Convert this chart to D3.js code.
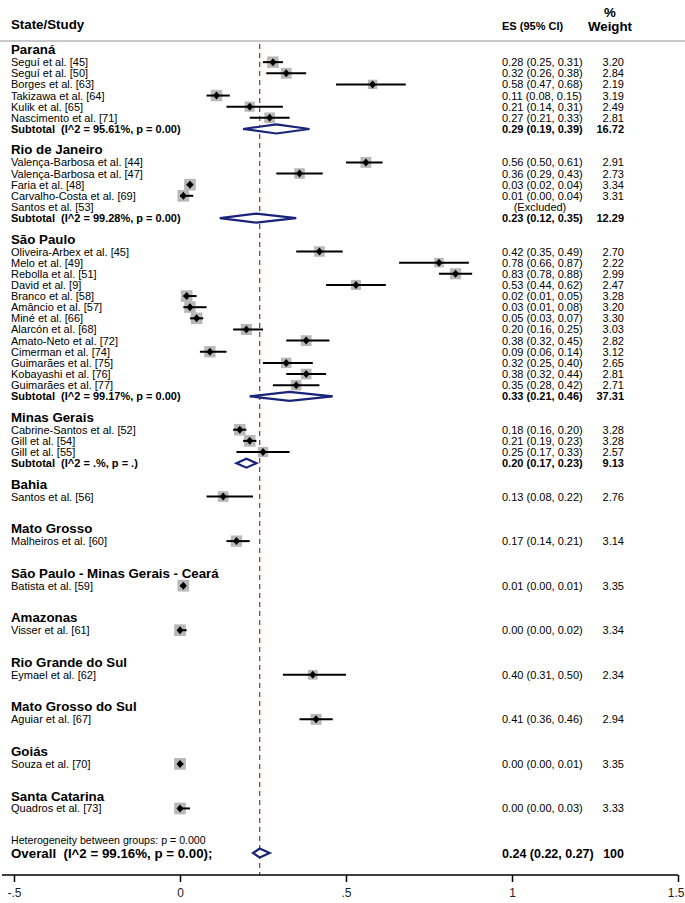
<!DOCTYPE html>
<html>
<head>
<meta charset="utf-8">
<script src="https://cdn.jsdelivr.net/npm/d3@7"></script>
<style>
  html, body { margin: 0; padding: 0; background: #fff; }
  svg { display: block; font-family: "Liberation Sans", Arial, Helvetica, sans-serif; }
  svg text { white-space: pre; }
</style>
</head>
<body>
<svg id="chart" width="685" height="903"></svg>
<script>
// ---------------- DATA ----------------
const groups = ["Paraná", "Rio de Janeiro", "São Paulo", "Minas Gerais", "Bahia", "Mato Grosso",
  "São Paulo - Minas Gerais - Ceará", "Amazonas", "Rio Grande do Sul", "Mato Grosso do Sul", "Goiás", "Santa Catarina"];

const studyNames = [
  "Seguí et al. [45]", "Seguí et al. [50]", "Borges et al. [63]", "Takizawa et al. [64]", "Kulik et al. [65]", "Nascimento et al. [71]",
  "Valença-Barbosa et al. [44]", "Valença-Barbosa et al. [47]", "Faria et al. [48]", "Carvalho-Costa et al. [69]", "Santos et al. [53]",
  "Oliveira-Arbex et al. [45]", "Melo et al. [49]", "Rebolla et al. [51]", "David et al. [9]", "Branco et al. [58]", "Amâncio et al. [57]",
  "Miné et al. [66]", "Alarcón et al. [68]", "Amato-Neto et al. [72]", "Cimerman et al. [74]", "Guimarães et al. [75]", "Kobayashi et al. [76]", "Guimarães et al. [77]",
  "Cabrine-Santos et al. [52]", "Gill et al. [54]", "Gill et al. [55]",
  "Santos et al. [56]", "Malheiros et al. [60]", "Batista et al. [59]", "Visser et al. [61]", "Eymael et al. [62]", "Aguiar et al. [67]",
  "Souza et al. [70]", "Quadros et al. [73]"
];
const studyGroup = [
  0,0,0,0,0,0,
  1,1,1,1,1,
  2,2,2,2,2,2,2,2,2,2,2,2,2,
  3,3,3,
  4,5,6,7,8,9,10,11
];
const studyES = [0.28,0.32,0.58,0.11,0.21,0.27, 0.56,0.36,0.03,0.01,null,
  0.42,0.78,0.83,0.53,0.02,0.03,0.05,0.20,0.38,0.09,0.32,0.38,0.35,
  0.18,0.21,0.25, 0.13,0.17,0.01,0.00,0.40,0.41,0.00,0.00];
const studyLo = [0.25,0.26,0.47,0.08,0.14,0.21, 0.50,0.29,0.02,0.00,null,
  0.35,0.66,0.78,0.44,0.01,0.01,0.03,0.16,0.32,0.06,0.25,0.32,0.28,
  0.16,0.19,0.17, 0.08,0.14,0.00,0.00,0.31,0.36,0.00,0.00];
const studyHi = [0.31,0.38,0.68,0.15,0.31,0.33, 0.61,0.43,0.04,0.04,null,
  0.49,0.87,0.88,0.62,0.05,0.08,0.07,0.25,0.45,0.14,0.40,0.44,0.42,
  0.20,0.23,0.33, 0.22,0.21,0.01,0.02,0.50,0.46,0.01,0.03];
const studyWeight = [3.20,2.84,2.19,3.19,2.49,2.81, 2.91,2.73,3.34,3.31,null,
  2.70,2.22,2.99,2.47,3.28,3.20,3.30,3.03,2.82,3.12,2.65,2.81,2.71,
  3.28,3.28,2.57, 2.76,3.14,3.35,3.34,2.34,2.94,3.35,3.33];

// subtotals (index = group), null = no subtotal shown
const subtotalLabel = ["Subtotal  (I^2 = 95.61%, p = 0.00)", "Subtotal  (I^2 = 99.28%, p = 0.00)",
  "Subtotal  (I^2 = 99.17%, p = 0.00)", "Subtotal  (I^2 = .%, p = .)", null, null, null, null, null, null, null, null];
const subtotalES = [0.29, 0.23, 0.33, 0.20];
const subtotalLo = [0.19, 0.12, 0.21, 0.17];
const subtotalHi = [0.39, 0.35, 0.46, 0.23];
const subtotalWeight = ["16.72", "12.29", "37.31", "9.13"];

const overallLabel = "Overall  (I^2 = 99.16%, p = 0.00);";
const overallES = 0.24, overallLo = 0.22, overallHi = 0.27, overallWeight = "100";
const heterogeneityText = "Heterogeneity between groups: p = 0.000";

const tickValues = [-0.5, 0, 0.5, 1, 1.5];
const tickLabels = ["-.5", "0", ".5", "1", "1.5"];

// ---------------- LAYOUT ----------------
const svg = d3.select("#chart");
const W = 685, H = 903;
const x = d3.scaleLinear().domain([-0.5, 1.5]).range([14, 678]);

// build rows
const rows = [];
groups.forEach((g, gi) => {
  rows.push({type: "heading", label: g});
  studyNames.forEach((n, i) => {
    if (studyGroup[i] === gi) rows.push({type: "study", i});
  });
  if (subtotalLabel[gi]) rows.push({type: "subtotal", gi});
  else rows.push({type: "empty"});
  rows.push({type: "empty"});
});
rows.push({type: "het"});
rows.push({type: "overall"});

const y = d3.scaleLinear().domain([0, rows.length - 1]).range([51, 853]);

const fmt = d3.format(".2f");
const esText = (e, l, h) => `${fmt(e)} (${fmt(l)}, ${fmt(h)})`;

const COL_ES = 502, COL_W = 624;
const NAVY = "#1a237a";
const FS = 11, FH = 13.3;

// header
svg.append("text").attr("x", 11).attr("y", 29).attr("font-size", FH).attr("font-weight", "bold").text("State/Study");
svg.append("text").attr("x", COL_ES).attr("y", 30).attr("font-size", 11).attr("font-weight", "bold").text("ES (95% CI)");
svg.append("text").attr("x", 610).attr("y", 17).attr("text-anchor", "middle").attr("font-size", FH).attr("font-weight", "bold").text("%");
svg.append("text").attr("x", 610).attr("y", 31).attr("text-anchor", "middle").attr("font-size", FH).attr("font-weight", "bold").text("Weight");
svg.append("line").attr("x1", 0).attr("x2", W).attr("y1", 41).attr("y2", 41).attr("stroke", "#c8c8c8").attr("stroke-width", 2);

// null line (overall)
svg.append("line").attr("x1", x(overallES)).attr("x2", x(overallES)).attr("y1", 44).attr("y2", 875)
  .attr("stroke", "#a8393f").attr("stroke-width", 1.3).attr("stroke-dasharray", "5,4");

function diamond(cx, lo, hi, cy, hh) {
  return `M${x(lo)},${cy} L${cx},${cy - hh} L${x(hi)},${cy} L${cx},${cy + hh} Z`;
}

rows.forEach((r, ri) => {
  const cy = y(ri);
  if (r.type === "heading") {
    svg.append("text").attr("x", 11).attr("y", cy + 3.2).attr("font-size", FH).attr("font-weight", "bold").text(r.label);
  } else if (r.type === "study") {
    const i = r.i;
    svg.append("text").attr("x", 11).attr("y", cy + 4).attr("font-size", FS).text(studyNames[i]);
    if (studyES[i] === null) {
      svg.append("text").attr("x", 540).attr("y", cy + 4).attr("text-anchor", "middle").attr("font-size", FS).text("(Excluded)");
      svg.append("text").attr("x", COL_W - 2).attr("y", cy + 4).attr("text-anchor", "end").attr("font-size", 6).attr("fill", "#888").text(".");
      return;
    }
    const s = 6.4 * Math.sqrt(studyWeight[i]);
    const cx = x(studyES[i]);
    svg.append("rect").attr("x", cx - s / 2).attr("y", cy - s / 2).attr("width", s).attr("height", s).attr("fill", "#b8b8b8");
    svg.append("line").attr("x1", x(studyLo[i])).attr("x2", x(studyHi[i])).attr("y1", cy).attr("y2", cy)
      .attr("stroke", "#000").attr("stroke-width", 2);
    svg.append("path").attr("d", `M${cx - 3.5},${cy} L${cx},${cy - 4} L${cx + 3.5},${cy} L${cx},${cy + 4} Z`).attr("fill", "#000");
    svg.append("text").attr("x", COL_ES).attr("y", cy + 4).attr("font-size", FS).text(esText(studyES[i], studyLo[i], studyHi[i]));
    svg.append("text").attr("x", COL_W).attr("y", cy + 4).attr("text-anchor", "end").attr("font-size", FS).text(fmt(studyWeight[i]));
  } else if (r.type === "subtotal") {
    const gi = r.gi;
    svg.append("text").attr("x", 11).attr("y", cy + 4).attr("font-size", FS).attr("font-weight", "bold").text(subtotalLabel[gi]);
    svg.append("path").attr("d", diamond(x(subtotalES[gi]), subtotalLo[gi], subtotalHi[gi], cy, 4.5))
      .attr("fill", "#fff").attr("stroke", NAVY).attr("stroke-width", 2.2);
    svg.append("text").attr("x", COL_ES).attr("y", cy + 4).attr("font-size", FS).attr("font-weight", "bold")
      .text(esText(subtotalES[gi], subtotalLo[gi], subtotalHi[gi]));
    svg.append("text").attr("x", COL_W).attr("y", cy + 4).attr("text-anchor", "end").attr("font-size", FS).attr("font-weight", "bold")
      .text(subtotalWeight[gi]);
  } else if (r.type === "het") {
    svg.append("text").attr("x", 11).attr("y", cy + 1.8).attr("font-size", 10.6).text(heterogeneityText);
  } else if (r.type === "overall") {
    svg.append("text").attr("x", 11).attr("y", cy + 5.2).attr("font-size", FH).attr("font-weight", "bold").text(overallLabel);
    svg.append("path").attr("d", diamond(x(overallES), overallLo, overallHi, cy, 4.5))
      .attr("fill", "#fff").attr("stroke", NAVY).attr("stroke-width", 2.2);
    svg.append("text").attr("x", COL_ES).attr("y", cy + 5).attr("font-size", 12.5).attr("font-weight", "bold")
      .text(esText(overallES, overallLo, overallHi));
    svg.append("text").attr("x", COL_W).attr("y", cy + 5).attr("text-anchor", "end").attr("font-size", 12.5).attr("font-weight", "bold")
      .text(overallWeight);
  }
});

// axis
const axisG = svg.append("g").attr("transform", "translate(0,875)")
  .call(d3.axisBottom(x).tickValues(tickValues).tickFormat((d, i) => tickLabels[i]).tickSize(7).tickSizeOuter(0).tickPadding(6));
axisG.select(".domain").remove();
axisG.insert("line", ":first-child").attr("x1", 2).attr("x2", x(1.5)).attr("y1", 0).attr("y2", 0).attr("stroke", "#000").attr("stroke-width", 1.5);
axisG.selectAll(".tick line").attr("stroke-width", 1.5);
axisG.selectAll(".tick text").attr("font-size", 12).attr("fill", "#222").attr("font-family", "Liberation Sans, Arial, sans-serif");
// keep the last label inside the page
axisG.selectAll(".tick text").filter(d => d === 1.5).attr("text-anchor", "end").attr("x", W - 1 - x(1.5));
</script>
</body>
</html>
